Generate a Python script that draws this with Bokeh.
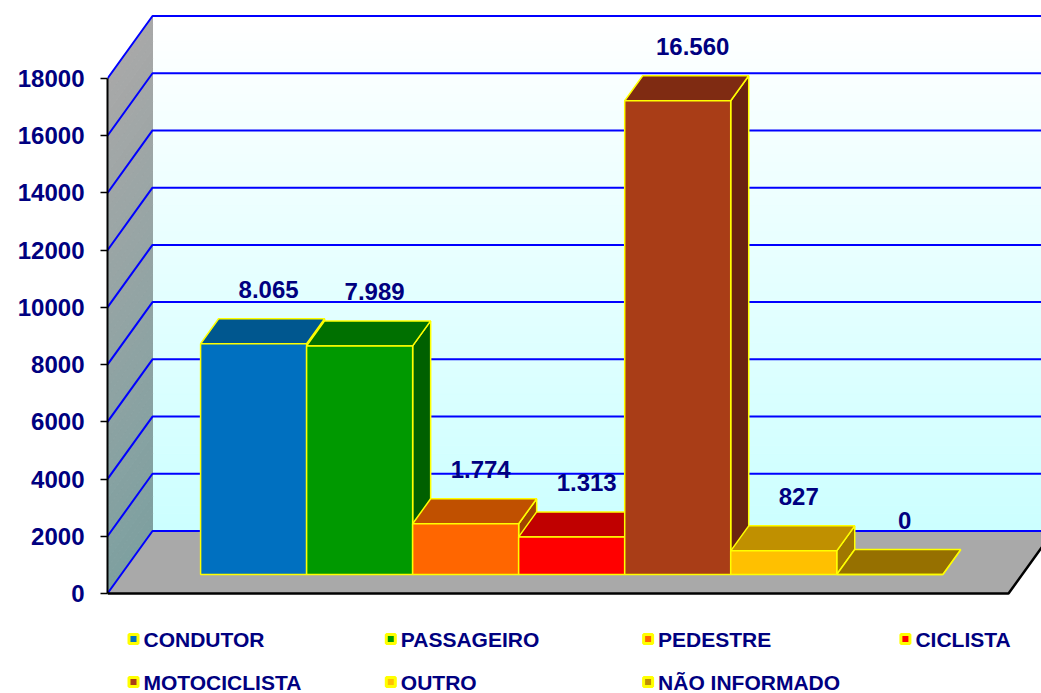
import numpy as np
from bokeh.plotting import figure
from bokeh.models import Range1d, LinearAxis, FixedTicker
from bokeh.core.properties import value
from bokeh.embed import file_html
from bokeh.resources import INLINE

# ---------------- data ----------------
series = ["CONDUTOR", "PASSAGEIRO", "PEDESTRE", "CICLISTA",
          "MOTOCICLISTA", "OUTRO", "NÃO INFORMADO"]
counts = [8065, 7989, 1774, 1313, 16560, 827, 0]
count_labels = ["8.065", "7.989", "1.774", "1.313", "16.560", "827", "0"]
tick_values = [0, 2000, 4000, 6000, 8000, 10000, 12000, 14000, 16000, 18000]
tick_labels = ["0", "2000", "4000", "6000", "8000", "10000", "12000",
               "14000", "16000", "18000"]

# ---------------- styles ----------------
front_colors = ["#0070C0", "#009900", "#FF6600", "#FF0000", "#A93D17", "#FFC000", "#BF9000"]
top_colors = ["#00578F", "#007000", "#C05000", "#C00000", "#7F2B12", "#C09000", "#967000"]
side_colors = ["#004A7A", "#006000", "#A04400", "#A00000", "#6B2410", "#A07800", "#806000"]
NAVY = "#000080"
FONT = value("Liberation Sans")

W, H = 1041, 693
MARGIN = 0
AXIS_X = 107.0         # screen x of the value axis (front-left corner)
FLOOR_R = 1008.0       # screen x of front-right corner of floor
Y0_PX, YTOP_PX = 593.0, 78.0   # screen y of value 0 and 18000 on the axis
DX = 45.0              # horizontal depth offset (px)
DY_PX = 62.5           # vertical depth offset (px)
k = (Y0_PX - YTOP_PX) / tick_values[-1]   # px per unit
D = DY_PX / k          # depth offset in value units
D1, D2 = 0.304, 0.704  # bar front / back depth fractions
GAP = 0.214

def sy(ypx):
    return (Y0_PX - ypx) / k

p = figure(width=W, height=H, output_backend="svg", toolbar_location=None,
           x_range=Range1d(AXIS_X, MARGIN + W),
           y_range=Range1d(sy(MARGIN + H), sy(MARGIN)),
           x_axis_location=None, y_axis_location=None,
           min_border_left=int(AXIS_X - MARGIN), min_border_right=0,
           min_border_top=0, min_border_bottom=0)
p.outline_line_color = None
p.grid.visible = False
p.background_fill_color = "white"
p.border_fill_color = "white"

def mix(c0, c1, t):
    a = np.array(c0, float); b = np.array(c1, float)
    c = a + (b - a) * t
    return "#%02x%02x%02x" % tuple(int(round(v)) for v in c)

vmax = tick_values[-1]
NB = 60
# back wall gradient
bx, by, bc = [], [], []
for j in range(NB):
    v0 = vmax * j / NB; v1 = vmax * (j + 1) / NB
    bx.append([AXIS_X + DX, FLOOR_R + DX + 40, FLOOR_R + DX + 40, AXIS_X + DX])
    by.append([v0 + D, v0 + D, v1 + D + 1, v1 + D + 1])
    bc.append(mix((204, 255, 255), (255, 255, 255), (j + 0.5) / NB))
p.patches(bx, by, fill_color=bc, line_color=bc, line_width=1)

# left wall gradient
lx, ly, lc = [], [], []
for j in range(NB):
    v0 = vmax * j / NB; v1 = vmax * (j + 1) / NB
    lx.append([AXIS_X, AXIS_X + DX, AXIS_X + DX, AXIS_X])
    ly.append([v0, v0 + D, v1 + D, v1])
    lc.append(mix((126, 160, 160), (168, 168, 168), (j + 0.5) / NB))
p.patches(lx, ly, fill_color=lc, line_color=lc, line_width=1)

# floor
p.patch([AXIS_X, FLOOR_R, FLOOR_R + DX, AXIS_X + DX], [0, 0, D, D],
        fill_color="#A9A9A9", line_color=None)

# gridlines
gx, gy = [], []
for t in tick_values:
    gx.append([AXIS_X, AXIS_X + DX, FLOOR_R + DX + 40])
    gy.append([t, t + D, t + D])
p.multi_line(gx, gy, line_color="#0000FF", line_width=2)

# floor edges
p.line([AXIS_X, FLOOR_R, FLOOR_R + DX], [0, 0, D], line_color="black", line_width=2.5)

# bars
n = len(series)
bar_w = (FLOOR_R - AXIS_X) / (1 + GAP) / n
left0 = (AXIS_X + FLOOR_R) / 2 - n * bar_w / 2 + DX * D1
ddx = DX * (D2 - D1)
ddy = D * (D2 - D1)
base = D * D1
lab_x, lab_y = [], []
for i, v in enumerate(counts):
    x0 = left0 + i * bar_w
    x1 = x0 + bar_w
    y0 = base
    y1 = base + v
    # side face
    p.patch([x1, x1, x1 + ddx, x1 + ddx], [y0, y1, y1 + ddy, y0 + ddy],
            fill_color=side_colors[i], line_color="#FFFF00", line_width=1.5)
    # top face
    p.patch([x0, x1, x1 + ddx, x0 + ddx], [y1, y1, y1 + ddy, y1 + ddy],
            fill_color=top_colors[i], line_color="#FFFF00", line_width=1.5)
    # front face
    p.patch([x0, x1, x1, x0], [y0, y0, y1, y1],
            fill_color=front_colors[i], line_color="#FFFF00", line_width=1.5)
    lab_x.append((x0 + x1) / 2 + 15)
    lab_y.append(y1 + ddy + 29 / k)

p.text(lab_x, lab_y, text=count_labels, text_font=FONT, text_font_style="bold",
       text_font_size="24px", text_color=NAVY, text_align="center",
       text_baseline="middle")

# legend (manual, 4 columns)
leg_x, leg_y = [], []
for i in range(n):
    r, c = divmod(i, 4)
    leg_x.append(133 + 257.3 * c)
    leg_y.append(sy(638.5 + 43 * r))
p.scatter(leg_x, leg_y, marker="square", size=9, fill_color=front_colors,
          line_color="#FFFF00", line_width=3)
p.text([x + 10 for x in leg_x], leg_y, text=series, text_font=FONT,
       text_font_style="bold", text_font_size="21px", text_color=NAVY,
       text_align="left", text_baseline="middle")

# value axis
ax = LinearAxis(ticker=FixedTicker(ticks=tick_values), bounds=(0, vmax))
ax.major_label_overrides = {t: l for t, l in zip(tick_values, tick_labels)}
ax.major_label_text_font = "Liberation Sans"
ax.major_label_text_font_style = "bold"
ax.major_label_text_font_size = "24px"
ax.major_label_text_color = NAVY
ax.major_label_standoff = 16
ax.major_tick_in = 0
ax.major_tick_out = 7
ax.major_tick_line_color = "black"
ax.major_tick_line_width = 1.5
ax.minor_tick_line_color = None
ax.axis_line_color = "black"
ax.axis_line_width = 2
p.add_layout(ax, "left")

open("out.html", "w").write(file_html(p, INLINE))
